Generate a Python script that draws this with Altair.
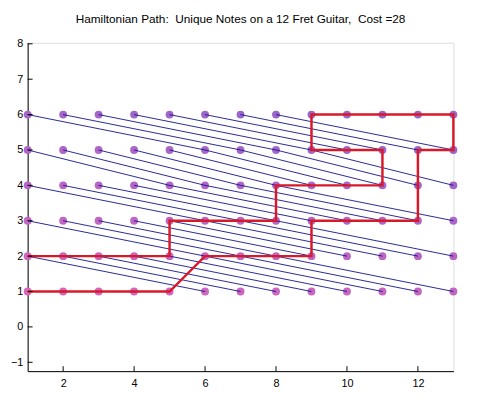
import altair as alt
import pandas as pd

TITLE = "Hamiltonian Path:\u00a0 Unique Notes on a 12 Fret Guitar,\u00a0 Cost =28"

# x positions = fret 0..12 shown as 1..13, y = string 1 (low E) .. 6 (high E)
frets = list(range(1, 14))
strings = [1, 2, 3, 4, 5, 6]
open_pitch = [0, 5, 10, 15, 19, 24]  # semitones above low E, standard tuning

# Hamiltonian path through the 37 unique notes
path_x = [1, 2, 3, 4, 5, 6, 7, 8, 9, 9, 10, 11, 12, 12, 12, 13, 13, 12, 11, 10, 9,
          9, 10, 11, 11, 10, 9, 8, 8, 7, 6, 5, 5, 4, 3, 2, 1]
path_y = [1, 1, 1, 1, 1, 2, 2, 2, 2, 3, 3, 3, 3, 4, 5, 5, 6, 6, 6, 6, 6,
          5, 5, 5, 4, 4, 4, 4, 3, 3, 3, 3, 2, 2, 2, 2, 2]

x_ticks = [2, 4, 6, 8, 10, 12]
y_ticks = [-1, 0, 1, 2, 3, 4, 5, 6, 7, 8]

W, H = 433, 334

pts = []
for s, op in zip(strings, open_pitch):
    for f in frets:
        pts.append({"x": f, "y": s, "pitch": op + f - 1})
pts_df = pd.DataFrame(pts)

# segments joining same-note positions on neighbouring strings
segs = []
for a in pts:
    for b in pts:
        if a["pitch"] == b["pitch"] and a["y"] == b["y"] + 1:
            segs.append({"x": a["x"], "y": a["y"], "x2": b["x"], "y2": b["y"]})
seg_df = pd.DataFrame(segs)

path_df = pd.DataFrame({"x": path_x, "y": path_y, "o": list(range(len(path_x)))})

xs = alt.Scale(domain=[1, 13], nice=False, zero=False)
ys = alt.Scale(domain=[-1.25, 8.03], nice=False, zero=False)
xax = alt.Axis(values=x_ticks, labelPadding=7, labelOverlap=False, labelFlush=False)
yax = alt.Axis(values=y_ticks, labelPadding=5, labelOverlap=False, labelFlush=False)

X = alt.X("x:Q", scale=xs, title=None, axis=xax)
Y = alt.Y("y:Q", scale=ys, title=None, axis=yax)

points = alt.Chart(pts_df).mark_circle(size=64, opacity=1).encode(
    x=X, y=Y,
    color=alt.Color("pitch:Q", scale=alt.Scale(domain=[0, 30], range=["#d866bc", "#9a66ca"], clamp=True), legend=None),
)

lines = alt.Chart(seg_df).mark_rule(color="#10108a", strokeWidth=0.9).encode(
    x=X, y=Y, x2="x2:Q", y2="y2:Q",
)

path = alt.Chart(path_df).mark_line(color="#d8192a", strokeWidth=2.5).encode(
    x=X, y=Y, order="o:Q",
)

xt = alt.Chart(pd.DataFrame({"x": x_ticks})).mark_rule(color="black", strokeWidth=1).encode(
    x=X, y=alt.value(H), y2=alt.value(H - 5))
yt = alt.Chart(pd.DataFrame({"y": y_ticks})).mark_rule(color="black", strokeWidth=1).encode(
    y=Y, x=alt.value(0), x2=alt.value(5))

chart = alt.layer(points, lines, path, xt, yt).properties(
    width=W, height=H,
    title=alt.TitleParams(TITLE, font="Liberation Sans", fontSize=12, fontWeight="normal",
                          color="black", anchor="middle", offset=12),
    padding={"left": 20, "top": 32, "right": 23, "bottom": 25},
    autosize="none",
).configure_view(stroke=None).configure(background="white").configure_axis(
    grid=False, tickSize=0, domainColor="black", domainWidth=1,
    labelFont="Liberation Sans", labelFontSize=11, labelColor="black",
)

chart.save("out.html", embed_options={"renderer": "svg", "actions": False})
